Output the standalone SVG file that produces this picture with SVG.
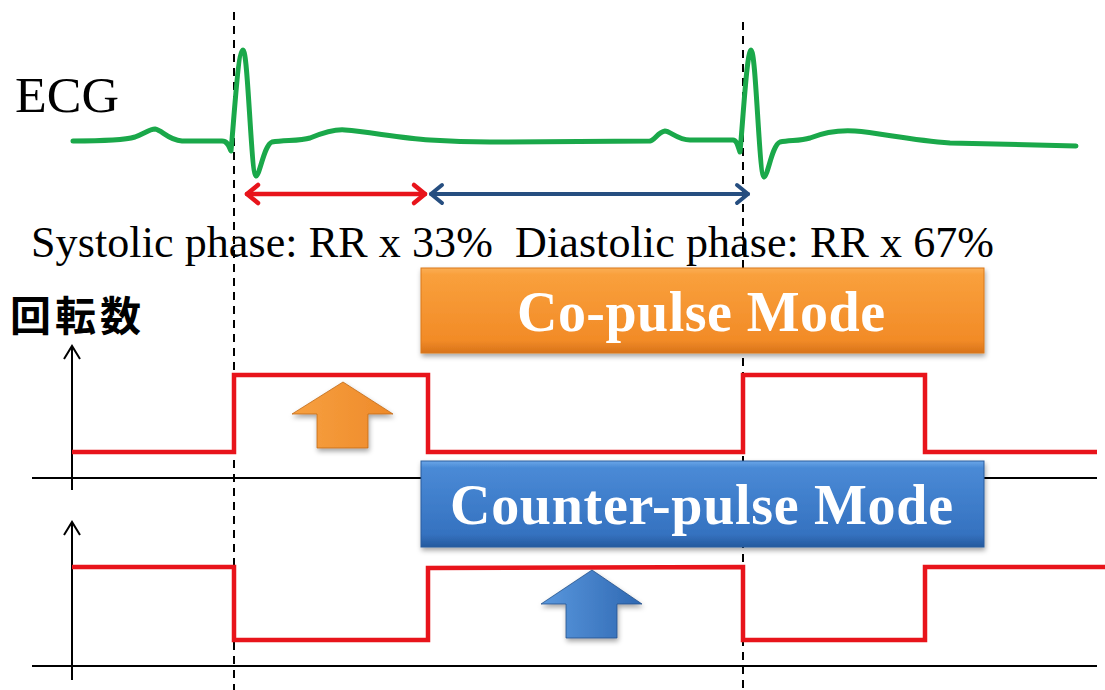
<svg xmlns="http://www.w3.org/2000/svg" width="1105" height="690" viewBox="0 0 1105 690">
<defs>
<style>
.dash{stroke:#000;stroke-width:2;stroke-dasharray:8 6;fill:none}
.axis{stroke:#000;stroke-width:2;fill:none}
.wave{stroke:#e8141b;stroke-width:4.5;fill:none;stroke-linejoin:miter}
.lbl{font-family:"Liberation Serif","Times New Roman",serif;fill:#000}
.boxtxt{font-family:"Liberation Serif","Times New Roman",serif;font-weight:bold;font-size:56px;fill:#fff}
</style>
<linearGradient id="gOr" x1="0" y1="0" x2="0" y2="1">
<stop offset="0" stop-color="#fbae55"/><stop offset="0.08" stop-color="#f9a03c"/><stop offset="0.85" stop-color="#f28b27"/><stop offset="1" stop-color="#d8731a"/>
</linearGradient>
<linearGradient id="gBl" x1="0" y1="0" x2="0" y2="1">
<stop offset="0" stop-color="#6aa6e8"/><stop offset="0.08" stop-color="#4a8ad6"/><stop offset="0.85" stop-color="#3572c0"/><stop offset="1" stop-color="#255a9e"/>
</linearGradient>
<linearGradient id="gOrA" x1="0" y1="0" x2="1" y2="0">
<stop offset="0" stop-color="#f7a040"/><stop offset="1" stop-color="#ee8a2a"/>
</linearGradient>
<linearGradient id="gBlA" x1="0" y1="0" x2="1" y2="0">
<stop offset="0" stop-color="#5a98de"/><stop offset="1" stop-color="#2f68b2"/>
</linearGradient>
<filter id="sh" x="-10%" y="-10%" width="120%" height="130%">
<feDropShadow dx="1" dy="3" stdDeviation="2.5" flood-color="#000" flood-opacity="0.35"/>
</filter>
</defs>
<rect width="1105" height="690" fill="#fff"/>

<g id="labels">
<text class="lbl" x="15" y="112" font-size="50" textLength="104" lengthAdjust="spacingAndGlyphs">ECG</text>
<text class="lbl" x="31" y="257" font-size="44" textLength="963" lengthAdjust="spacing" xml:space="preserve">Systolic phase: RR x 33%  Diastolic phase: RR x 67%</text>
<text x="10" y="331" font-family="'Noto Sans CJK JP','Noto Sans CJK SC',sans-serif" font-weight="bold" font-size="41" letter-spacing="4">回転数</text>
</g>

<g id="guides">
<line class="dash" x1="234" y1="12" x2="234" y2="690"/>
<line class="dash" x1="743" y1="22" x2="743" y2="690"/>
</g>

<g id="ecg">
<path d="M73,141 C100,141 125,140 135,137 C145,133 150,129 155,129 C162,130 168,140 182,141 L222,141 C228,141 229,147 231,151 C234,120 238,50 243,50 C248,50 251,175 256,176 C260,175 264,145 272,142 C285,140 300,141 310,138 C325,132 335,129 345,130 C370,132 400,138 430,140 C460,142 480,142 490,142 L650,141 C655,140 658,132 665,131 C670,131 678,140 690,140 L733,140 C737,140 738,147 740,152 C743,120 747,50 751,50 C756,50 759,176 764,177 C768,176 772,145 780,142 C790,140 800,141 810,138 C825,132 840,130 855,131 C880,133 910,140 950,143 L1076,146" fill="none" stroke="#1aa84a" stroke-width="5" stroke-linejoin="round" stroke-linecap="round"/>
</g>

<g id="connectors">
<g id="systolic-arrow" stroke="#e8141b" stroke-width="4.5" fill="none" stroke-linecap="round" stroke-linejoin="round">
<line x1="247" y1="194" x2="425" y2="194"/>
<path d="M258,185 L247,194 L258,203"/>
<path d="M414,185 L425,194 L414,203"/>
</g>
<g id="diastolic-arrow" stroke="#264e80" stroke-width="4" fill="none" stroke-linecap="round" stroke-linejoin="round">
<line x1="431" y1="194" x2="748" y2="194"/>
<path d="M442,185 L431,194 L442,203"/>
<path d="M737,185 L748,194 L737,203"/>
</g>
</g>

<g id="top-chart">
<line class="axis" x1="32" y1="478" x2="1097" y2="478"/>
<line class="axis" x1="72" y1="346" x2="72" y2="490"/>
<path class="axis" d="M64,359 L72,346 L80,359"/>
<path class="wave" d="M72,452 L234,452 L234,375 L428,375 L428,452 L743,452 L743,375 L925,375 L925,452 L1097,452"/>
<polygon points="343,382 393,414 368,414 368,448 317,448 317,414 292,414" fill="url(#gOrA)" stroke="#c06a18" stroke-width="0.8" filter="url(#sh)"/>
</g>

<g id="bottom-chart">
<line class="axis" x1="32" y1="666" x2="1097" y2="666"/>
<line class="axis" x1="72" y1="522" x2="72" y2="680"/>
<path class="axis" d="M64,535 L72,522 L80,535"/>
<path class="wave" d="M72,567 L234,567 L234,640 L428,640 L428,568 L743,567 L743,640 L925,640 L925,567 L1105,567"/>
<polygon points="592,570 642,604 617,604 617,638 566,638 566,604 541,604" fill="url(#gBlA)" stroke="#23508a" stroke-width="0.8" filter="url(#sh)"/>
</g>

<g id="co-pulse-mode">
<rect x="421" y="268" width="563" height="85" fill="url(#gOr)" stroke="#d9781c" stroke-width="1" filter="url(#sh)"/>
<text class="boxtxt" x="517" y="331" textLength="368" lengthAdjust="spacing">Co-pulse Mode</text>
</g>

<g id="counter-pulse-mode">
<rect x="421" y="461" width="563" height="86" fill="url(#gBl)" stroke="#2a5d9e" stroke-width="1" filter="url(#sh)"/>
<text class="boxtxt" x="450" y="524" textLength="503" lengthAdjust="spacing">Counter-pulse Mode</text>
</g>
</svg>
